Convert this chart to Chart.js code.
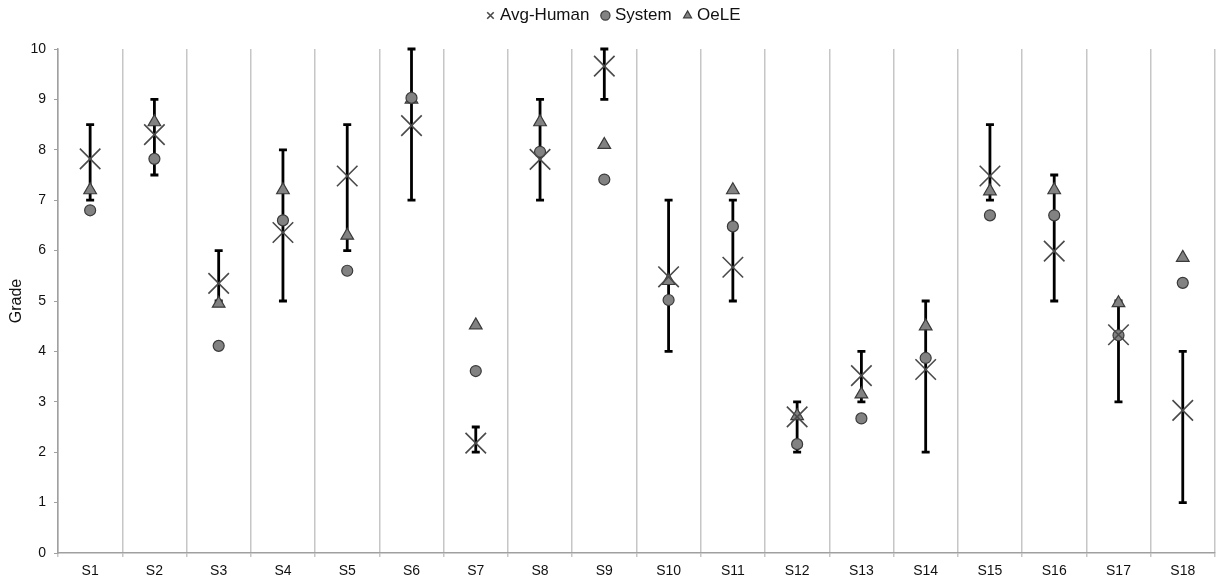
<!DOCTYPE html>
<html>
<head>
<meta charset="utf-8">
<script src="https://cdn.jsdelivr.net/npm/chart.js"></script>
<style>
    html, body { margin: 0; padding: 0; background: #fff; }
    #wrap { width: 1231px; height: 584px; }
</style>
</head>
<body>
<div id="wrap"><canvas id="myChart" width="1231" height="584"></canvas></div>
<script>
    // 데이터
    var categories = ['S1','S2','S3','S4','S5','S6','S7','S8','S9','S10','S11','S12','S13','S14','S15','S16','S17','S18'];
    var avgHuman = [7.82, 8.3, 5.35, 6.36, 7.48, 8.48, 2.18, 7.81, 9.66, 5.48, 5.67, 2.7, 3.52, 3.64, 7.48, 5.99, 4.33, 2.83];
    var humanMin = [7, 7.5, 5, 5, 6, 7, 2, 7, 9, 4, 5, 2, 3, 2, 7, 5, 3, 1];
    var humanMax = [8.5, 9, 6, 8, 8.5, 10, 2.5, 9, 10, 7, 7, 3, 4, 5, 8.5, 7.5, 5, 4];
    var system = [6.8, 7.82, 4.11, 6.6, 5.6, 9.03, 3.61, 7.96, 7.41, 5.02, 6.48, 2.16, 2.67, 3.87, 6.7, 6.7, 4.32, 5.36];
    var oele = [7.2, 8.55, 4.95, 7.2, 6.3, 9.0, 4.52, 8.55, 8.1, 5.4, 7.2, 2.72, 3.15, 4.5, 7.18, 7.2, 4.96, 5.86];
    var yTicks = [0, 1, 2, 3, 4, 5, 6, 7, 8, 9, 10];

    var FONT = "'Liberation Sans', Arial, sans-serif";

    // 최소-최대 오차 막대 (평균 사람 점수)
    var errorBars = {
        id: 'errorBars',
        beforeDatasetsDraw: function (chart) {
            var ctx = chart.ctx;
            var xs = chart.scales.x, ys = chart.scales.y;
            ctx.save();
            ctx.strokeStyle = '#000';
            ctx.lineWidth = 2.8;
            for (var i = 0; i < categories.length; i++) {
                var x = xs.getPixelForValue(i);
                var y1 = ys.getPixelForValue(humanMin[i]);
                var y2 = ys.getPixelForValue(humanMax[i]);
                ctx.beginPath();
                ctx.moveTo(x, y1); ctx.lineTo(x, y2);
                ctx.moveTo(x - 4, y1); ctx.lineTo(x + 4, y1);
                ctx.moveTo(x - 4, y2); ctx.lineTo(x + 4, y2);
                ctx.stroke();
            }
            ctx.restore();
        }
    };

    // 범례 아래 여백 늘리기
    var legendGap = {
        id: 'legendGap',
        beforeInit: function (chart) {
            var fit = chart.legend.fit;
            chart.legend.fit = function () {
                fit.call(this);
                this.height = 57;
            };
        }
    };

    var ctx = document.getElementById('myChart').getContext('2d');
    window.myChart = new Chart(ctx, {
        type: 'line',
        data: {
            labels: categories,
            datasets: [{
                label: 'Avg-Human',
                data: avgHuman,
                showLine: false,
                pointStyle: 'crossRot',
                pointRadius: 14.5,
                pointBorderWidth: 1.6,
                borderColor: '#4a4a4a',
                backgroundColor: '#4a4a4a'
            }, {
                label: 'System',
                data: system,
                showLine: false,
                pointStyle: 'circle',
                pointRadius: 5.5,
                pointBorderWidth: 1.2,
                borderColor: '#3a3a3a',
                backgroundColor: '#828282'
            }, {
                label: 'OeLE',
                data: oele,
                showLine: false,
                pointStyle: 'triangle',
                pointRadius: 7.3,
                pointBorderWidth: 1.2,
                borderColor: '#3a3a3a',
                backgroundColor: '#828282'
            }]
        },
        options: {
            responsive: false,
            animation: false,
            layout: { padding: { left: 0, right: 1, top: -8, bottom: 0 } },
            plugins: {
                legend: {
                    position: 'top',
                    labels: {
                        usePointStyle: true,
                        boxWidth: 2,
                        boxHeight: 6.5,
                        padding: 15,
                        color: '#111',
                        font: { family: FONT, size: 17 }
                    }
                },
                tooltip: { enabled: false }
            },
            scales: {
                x: {
                    offset: true,
                    afterFit: function (axis) {
                        axis.height = 31;
                        axis.paddingLeft = 0;
                        axis.paddingRight = 0;
                    },
                    grid: { offset: true, color: '#c6c6c6', lineWidth: 1.5, tickLength: 4 },
                    border: { color: '#a0a0a0', width: 1.5 },
                    ticks: { color: '#111', font: { family: FONT, size: 14 }, padding: 6 }
                },
                y: {
                    min: 0,
                    max: 10,
                    afterBuildTicks: function (axis) {
                        axis.ticks = yTicks.map(function (v) { return { value: v }; });
                    },
                    afterFit: function (axis) {
                        axis.width = 58;
                    },
                    grid: { drawOnChartArea: false, color: '#a0a0a0', tickLength: 4 },
                    border: { color: '#a0a0a0', width: 1.5 },
                    ticks: { color: '#111', font: { family: FONT, size: 14 }, padding: 8 },
                    title: { display: true, text: 'Grade', color: '#111', font: { family: FONT, size: 16 }, padding: { top: 7, bottom: 0 } }
                }
            }
        },
        plugins: [errorBars, legendGap]
    });
</script>
</body>
</html>
